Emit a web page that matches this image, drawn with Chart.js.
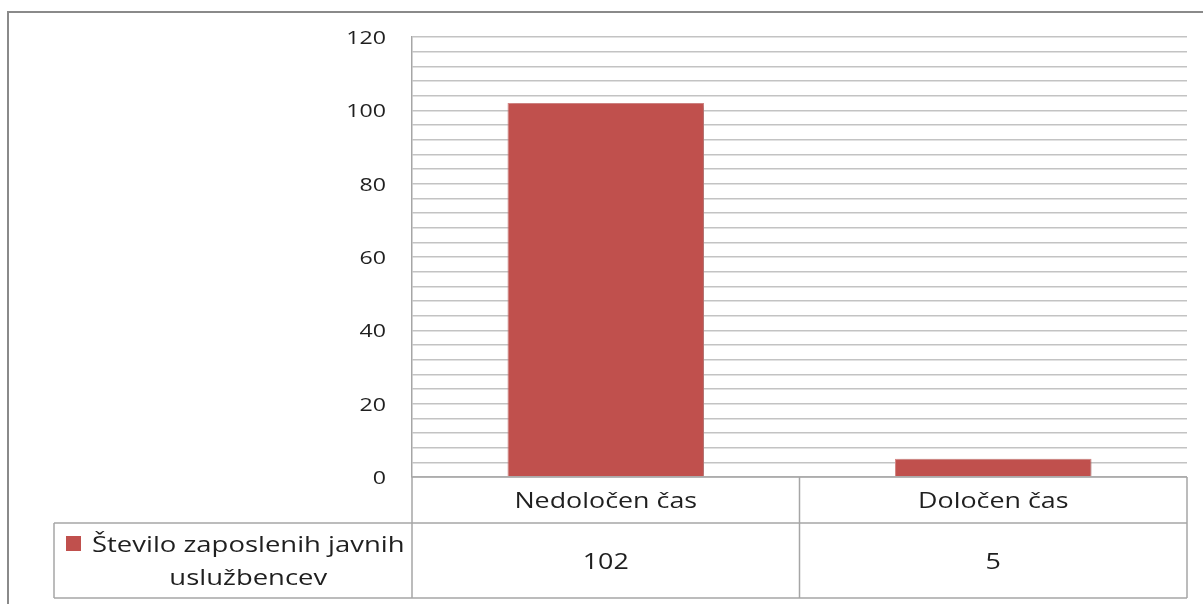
<!DOCTYPE html>
<html>
<head>
<meta charset="utf-8">
<script src="https://cdn.jsdelivr.net/npm/chart.js@4/dist/chart.umd.min.js"></script>
<style>
  html, body { margin: 0; padding: 0; background: #ffffff; }
  #wrap { width: 1203px; height: 604px; position: relative; }
</style>
</head>
<body>
<div id="wrap"><canvas id="c" width="1203" height="604"></canvas></div>
<script>
// Employment type categories and head counts
const categories = ['Nedoločen čas', 'Določen čas'];
const seriesName = 'Število zaposlenih javnih uslužbencev';
const seriesLegendLines = ['Število zaposlenih javnih', 'uslužbencev'];
const employees = [102, 5];
const yTickLabels = [0, 20, 40, 60, 80, 100, 120];

const FONT = '"Open Sans", "Noto Sans", sans-serif';
const TEXT = '#1f1f1f';
const BAR = '#C0504D';
const LINE = '#a6a6a6';
const STRETCH = 1.22;   // wide lettering

// Draw text widened horizontally around its anchor point
function wideText(ctx, text, x, y, align, size) {
  ctx.save();
  ctx.font = size + 'px ' + FONT;
  ctx.textAlign = align;
  ctx.textBaseline = 'alphabetic';
  ctx.translate(x, y);
  ctx.scale(STRETCH, 1);
  ctx.fillText(text, 0, 0);
  ctx.restore();
}

// Frame around the chart, value axis labels and the data table under the plot
const tablePlugin = {
  id: 'dataTable',
  beforeDraw(chart) {
    const ctx = chart.ctx;
    ctx.save();
    ctx.fillStyle = '#ffffff';
    ctx.fillRect(0, 0, chart.width, chart.height);
    ctx.strokeStyle = '#8a8a8a';
    ctx.lineWidth = 2;
    ctx.strokeRect(8, 12, chart.width + 20, chart.height + 20);
    ctx.restore();
  },
  afterDraw(chart) {
    const ctx = chart.ctx;
    const area = chart.chartArea;
    const x = chart.scales.x;
    const y = chart.scales.y;
    const left = area.left, right = area.right, top = area.bottom;
    const rowH1 = 46, rowH2 = 75;
    const mid = top + rowH1, bottom = mid + rowH2;
    const legendLeft = 54;

    ctx.save();
    ctx.fillStyle = TEXT;

    // value axis labels at the scale's major ticks
    y.ticks.forEach(t => {
      if (yTickLabels.includes(t.value)) {
        wideText(ctx, String(t.value), left - 26, y.getPixelForValue(t.value) + 7, 'right', 19);
      }
    });

    // category boundaries taken from the category scale
    const bounds = [left];
    for (let i = 0; i < categories.length - 1; i++) {
      bounds.push((x.getPixelForValue(i) + x.getPixelForValue(i + 1)) / 2);
    }
    bounds.push(right);

    ctx.strokeStyle = LINE;
    ctx.lineWidth = 1.5;
    ctx.beginPath();
    ctx.moveTo(left, top); ctx.lineTo(right, top);
    ctx.moveTo(legendLeft, mid); ctx.lineTo(right, mid);
    ctx.moveTo(legendLeft, bottom); ctx.lineTo(right, bottom);
    ctx.moveTo(legendLeft, mid); ctx.lineTo(legendLeft, bottom);
    bounds.forEach(b => { ctx.moveTo(b, top); ctx.lineTo(b, bottom); });
    ctx.stroke();

    categories.forEach((c, i) => {
      const cx = x.getPixelForValue(i);
      wideText(ctx, c, cx, top + 30.5, 'center', 22);
      wideText(ctx, String(employees[i]), cx, mid + 45.5, 'center', 22);
    });

    // legend key inside the table's first column
    const legendSize = 22.5;
    ctx.fillStyle = BAR;
    ctx.fillRect(66, 536, 15, 15);
    ctx.fillStyle = TEXT;
    ctx.font = legendSize + 'px ' + FONT;
    const line1W = ctx.measureText(seriesLegendLines[0]).width * STRETCH;
    const tx = 92;
    wideText(ctx, seriesLegendLines[0], tx, 551.5, 'left', legendSize);
    wideText(ctx, seriesLegendLines[1], tx + line1W / 2, 584.5, 'center', legendSize);
    ctx.restore();
  }
};

// Soft drop shadow behind the bars
const shadowPlugin = {
  id: 'barShadow',
  beforeDatasetsDraw(chart) {
    const ctx = chart.ctx;
    ctx.save();
    ctx.shadowColor = 'rgba(0,0,0,0.28)';
    ctx.shadowBlur = 5;
    ctx.shadowOffsetX = 2;
    ctx.shadowOffsetY = 1;
  },
  afterDatasetsDraw(chart) {
    chart.ctx.restore();
  }
};

new Chart(document.getElementById('c'), {
  type: 'bar',
  data: {
    labels: categories,
    datasets: [{
      label: seriesName,
      data: employees,
      backgroundColor: BAR,
      borderColor: '#d98a88',
      borderWidth: 1,
      barPercentage: 0.507,
      categoryPercentage: 1.0
    }]
  },
  options: {
    responsive: false,
    animation: false,
    devicePixelRatio: 1,
    layout: { padding: { left: 0, top: 37, right: 16, bottom: 127 } },
    plugins: {
      legend: { display: false },
      tooltip: { enabled: false },
      title: { display: false }
    },
    scales: {
      x: { display: false },
      y: {
        min: 0,
        max: 120,
        afterFit(scale) { scale.width = 412; },
        border: { display: true, color: LINE, width: 1.5 },
        grid: { color: '#c3c3c3', lineWidth: 1.5, drawTicks: false },
        ticks: {
          stepSize: 4,
          autoSkip: false,
          display: false
        }
      }
    }
  },
  plugins: [shadowPlugin, tablePlugin]
});
</script>
</body>
</html>
